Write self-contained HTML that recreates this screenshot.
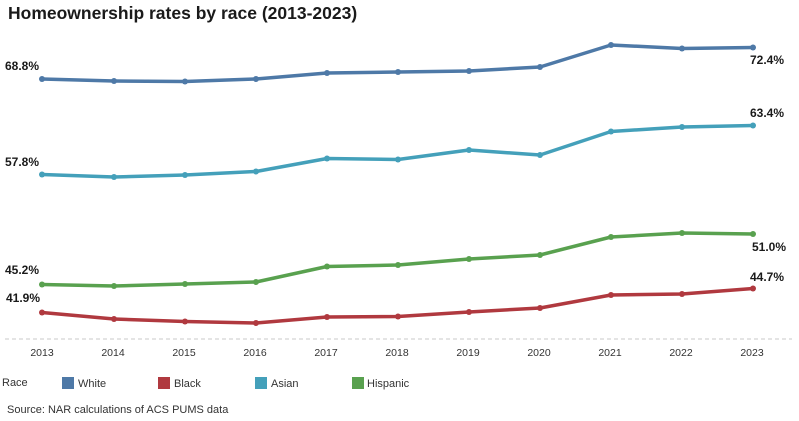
<!DOCTYPE html>
<html><head><meta charset="utf-8"><style>
html,body{margin:0;padding:0;background:#fff;width:799px;height:421px;overflow:hidden}
svg{display:block;font-family:"Liberation Sans",sans-serif}
</style></head><body>
<svg width="799" height="421" viewBox="0 0 799 421">
<text x="8" y="19" font-size="17.5" font-weight="bold" fill="#1a1a1a">Homeownership rates by race (2013-2023)</text>
<line x1="5" y1="339" x2="792" y2="339" stroke="#c8c8c8" stroke-width="1" stroke-dasharray="4,3"/>
<g fill="none" stroke-width="3.5" stroke-linejoin="round" stroke-linecap="round">
<polyline stroke="#4e79a7" points="42,79 114,81 185,81.5 256,79 327,73 398,72 469,71 540,67 611,45 682,48.5 753,47.5"/>
<polyline stroke="#44a0ba" points="42,174.5 114,177 185,175 256,171.5 327,158.5 398,159.5 469,150 540,155 611,131.5 682,127 753,125.5"/>
<polyline stroke="#59a14f" points="42,284.5 114,286 185,284 256,282 327,266.5 398,265 469,259 540,255 611,237 682,233 753,234"/>
<polyline stroke="#b0393f" points="42,312.5 114,319 185,321.5 256,323 327,317 398,316.5 469,312 540,308 611,295 682,294 753,288.5"/>
</g>
<g fill="#4e79a7"><circle cx="42" cy="79" r="3"/><circle cx="114" cy="81" r="3"/><circle cx="185" cy="81.5" r="3"/><circle cx="256" cy="79" r="3"/><circle cx="327" cy="73" r="3"/><circle cx="398" cy="72" r="3"/><circle cx="469" cy="71" r="3"/><circle cx="540" cy="67" r="3"/><circle cx="611" cy="45" r="3"/><circle cx="682" cy="48.5" r="3"/><circle cx="753" cy="47.5" r="3"/></g>
<g fill="#44a0ba"><circle cx="42" cy="174.5" r="3"/><circle cx="114" cy="177" r="3"/><circle cx="185" cy="175" r="3"/><circle cx="256" cy="171.5" r="3"/><circle cx="327" cy="158.5" r="3"/><circle cx="398" cy="159.5" r="3"/><circle cx="469" cy="150" r="3"/><circle cx="540" cy="155" r="3"/><circle cx="611" cy="131.5" r="3"/><circle cx="682" cy="127" r="3"/><circle cx="753" cy="125.5" r="3"/></g>
<g fill="#59a14f"><circle cx="42" cy="284.5" r="3"/><circle cx="114" cy="286" r="3"/><circle cx="185" cy="284" r="3"/><circle cx="256" cy="282" r="3"/><circle cx="327" cy="266.5" r="3"/><circle cx="398" cy="265" r="3"/><circle cx="469" cy="259" r="3"/><circle cx="540" cy="255" r="3"/><circle cx="611" cy="237" r="3"/><circle cx="682" cy="233" r="3"/><circle cx="753" cy="234" r="3"/></g>
<g fill="#b0393f"><circle cx="42" cy="312.5" r="3"/><circle cx="114" cy="319" r="3"/><circle cx="185" cy="321.5" r="3"/><circle cx="256" cy="323" r="3"/><circle cx="327" cy="317" r="3"/><circle cx="398" cy="316.5" r="3"/><circle cx="469" cy="312" r="3"/><circle cx="540" cy="308" r="3"/><circle cx="611" cy="295" r="3"/><circle cx="682" cy="294" r="3"/><circle cx="753" cy="288.5" r="3"/></g>
<g font-size="12" font-weight="bold" fill="#1a1a1a">
<text x="5" y="70">68.8%</text><text x="5" y="166">57.8%</text><text x="5" y="274">45.2%</text><text x="6" y="302">41.9%</text>
<text x="750" y="64">72.4%</text><text x="750" y="117">63.4%</text><text x="752" y="251">51.0%</text><text x="750" y="281">44.7%</text>
</g>
<g font-size="10.5" fill="#333" text-anchor="middle">
<text x="42" y="356">2013</text><text x="113" y="356">2014</text><text x="184" y="356">2015</text><text x="255" y="356">2016</text><text x="326" y="356">2017</text><text x="397" y="356">2018</text><text x="468" y="356">2019</text><text x="539" y="356">2020</text><text x="610" y="356">2021</text><text x="681" y="356">2022</text><text x="752" y="356">2023</text>
</g>
<g font-size="11" fill="#333">
<text x="2" y="386">Race</text>
<rect x="62" y="377" width="12" height="12" fill="#4e79a7"/><text x="78" y="387">White</text>
<rect x="158" y="377" width="12" height="12" fill="#b0393f"/><text x="174" y="387">Black</text>
<rect x="255" y="377" width="12" height="12" fill="#44a0ba"/><text x="271" y="387">Asian</text>
<rect x="352" y="377" width="12" height="12" fill="#59a14f"/><text x="367" y="387">Hispanic</text>
<text x="7" y="413">Source: NAR calculations of ACS PUMS data</text>
</g>
</svg>
</body></html>
